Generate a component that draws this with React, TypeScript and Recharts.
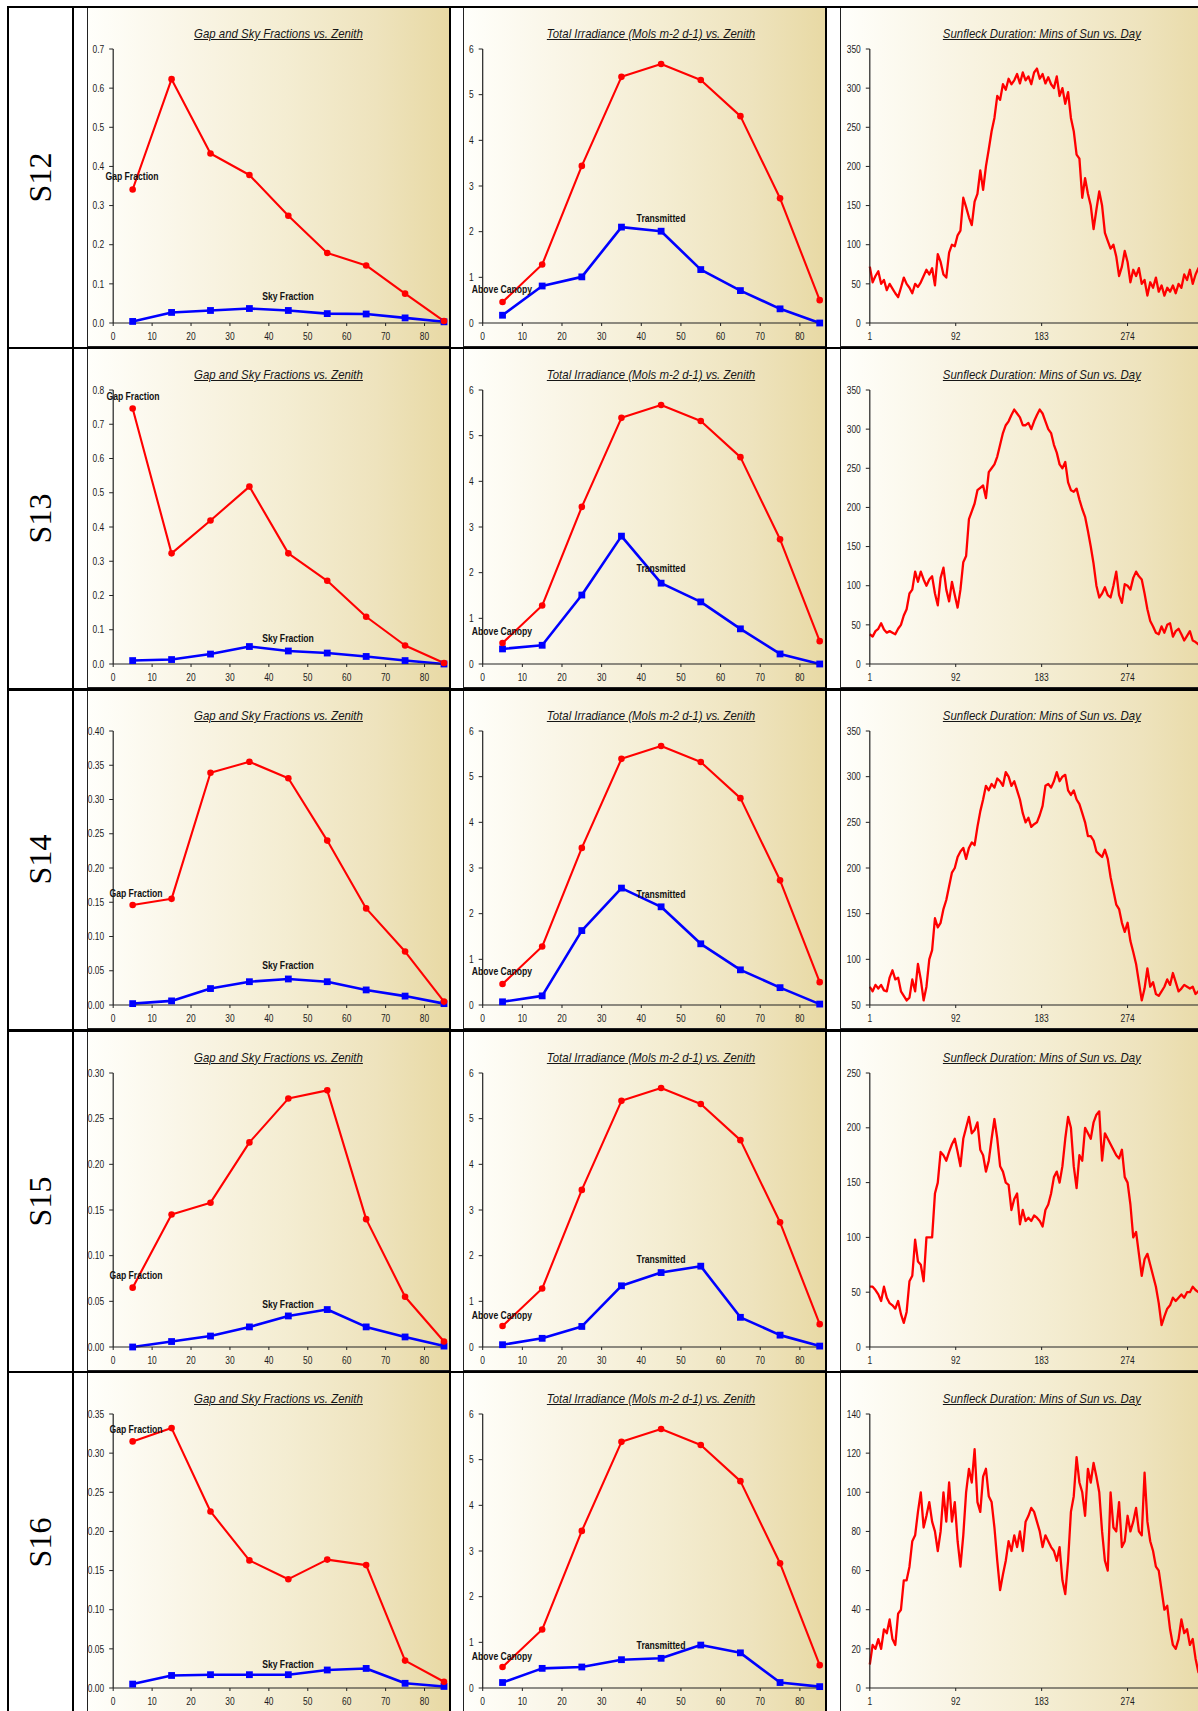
import React from 'react';
import { LineChart, Line, XAxis, YAxis } from 'recharts';

// ---------- data ----------
const rowNames = ['S12', 'S13', 'S14', 'S15', 'S16'];
const zenith = [5, 15, 25, 35, 45, 55, 65, 75, 85];
const zenithTicks = [0, 10, 20, 30, 40, 50, 60, 70, 80];
const dayTicks = [1, 92, 183, 274];

const gapS12 = [0.341, 0.623, 0.433, 0.378, 0.274, 0.179, 0.147, 0.075, 0.005];
const skyS12 = [0.004, 0.027, 0.032, 0.037, 0.032, 0.024, 0.023, 0.013, 0.003];
const gapS13 = [0.746, 0.323, 0.419, 0.518, 0.323, 0.243, 0.138, 0.054, 0.003];
const skyS13 = [0.01, 0.013, 0.029, 0.051, 0.038, 0.032, 0.022, 0.01, 0.0];
const gapS14 = [0.146, 0.155, 0.339, 0.355, 0.331, 0.24, 0.141, 0.078, 0.005];
const skyS14 = [0.002, 0.006, 0.024, 0.034, 0.038, 0.034, 0.022, 0.013, 0.002];
const gapS15 = [0.065, 0.145, 0.158, 0.224, 0.272, 0.281, 0.14, 0.055, 0.006];
const skyS15 = [0.0, 0.006, 0.012, 0.022, 0.034, 0.041, 0.022, 0.011, 0.001];
const gapS16 = [0.315, 0.332, 0.2255, 0.163, 0.139, 0.164, 0.157, 0.035, 0.008];
const skyS16 = [0.005, 0.016, 0.017, 0.017, 0.017, 0.023, 0.025, 0.006, 0.002];

const aboveCanopy = [0.46, 1.28, 3.44, 5.39, 5.67, 5.32, 4.53, 2.73, 0.5];
const transS12 = [0.17, 0.81, 1.01, 2.1, 2.01, 1.17, 0.71, 0.31, 0.0];
const transS13 = [0.33, 0.41, 1.51, 2.8, 1.77, 1.36, 0.77, 0.22, 0.0];
const transS14 = [0.07, 0.2, 1.63, 2.56, 2.15, 1.34, 0.77, 0.38, 0.02];
const transS15 = [0.05, 0.19, 0.45, 1.34, 1.63, 1.77, 0.65, 0.26, 0.02];
const transS16 = [0.12, 0.43, 0.46, 0.62, 0.65, 0.94, 0.77, 0.12, 0.03];

// sunfleck minutes, every third day starting at day 1
const sunS12 = [
  72, 52, 60, 66, 50, 55, 42, 50, 44, 38,
  33, 45, 58, 50, 45, 38, 50, 46, 52, 60,
  68, 62, 70, 48, 88, 78, 62, 58, 90, 100,
  98, 112, 118, 160, 148, 135, 125, 155, 165, 195,
  170, 200, 222, 245, 262, 290, 285, 305, 298, 312,
  305, 310, 318, 306, 320, 310, 315, 305, 320, 325,
  312, 318, 306, 314, 305, 300, 315, 290, 300, 280,
  295, 262, 245, 215, 210, 160, 185, 165, 150, 120,
  145, 168, 150, 115, 105, 95, 100, 85, 60, 72,
  92, 78, 52, 68, 60, 70, 50, 55, 35, 52,
  45, 58, 40, 48, 35, 45, 40, 48, 38, 50,
  45, 62, 55, 68, 50, 62, 70, 58, 62, 55,
  60, 58,
];
const sunS13 = [
  38, 35, 42, 45, 52, 44, 40, 42, 40, 38,
  45, 50, 62, 70, 90, 95, 118, 105, 118, 108,
  100, 108, 112, 90, 75, 110, 123, 95, 80, 105,
  88, 72, 95, 130, 138, 185, 195, 205, 222, 225,
  228, 212, 245, 250, 255, 265, 280, 295, 305, 310,
  318, 325, 320, 315, 305, 305, 308, 300, 310, 318,
  325, 320, 310, 300, 295, 280, 270, 255, 250, 258,
  232, 222, 220, 224, 210, 198, 188, 170, 150, 128,
  100, 85, 90, 98, 88, 85, 100, 118, 88, 78,
  102, 100, 95, 110, 118, 112, 108, 90, 70, 55,
  48, 40, 38, 48, 40, 50, 52, 35, 42, 45,
  38, 30, 36, 42, 30, 28, 25, 30, 28, 30,
  26, 28,
];
const sunS14 = [
  70, 65, 72, 68, 72, 66, 65, 80, 88, 78,
  80, 65, 60, 55, 58, 78, 65, 95, 78, 55,
  70, 100, 110, 145, 135, 140, 155, 165, 180, 195,
  200, 212, 218, 222, 210, 222, 228, 225, 245, 262,
  275, 290, 285, 292, 288, 298, 295, 290, 305, 300,
  290, 295, 285, 275, 260, 250, 255, 245, 248, 250,
  258, 268, 290, 292, 288, 295, 305, 295, 300, 302,
  285, 280, 285, 275, 270, 260, 250, 235, 235, 230,
  218, 215, 212, 220, 210, 190, 175, 160, 155, 140,
  130, 140, 120, 108, 95, 75, 55, 68, 90, 70,
  75, 62, 60, 65, 70, 78, 72, 85, 75, 65,
  68, 72, 70, 68, 70, 62, 65, 68, 70, 65,
  68, 66,
];
const sunS15 = [
  55, 55, 52, 48, 42, 55, 45, 40, 38, 35,
  42, 30, 22, 32, 60, 65, 98, 78, 75, 60,
  100, 100, 100, 140, 150, 178, 175, 170, 178, 185,
  190, 178, 165, 190, 200, 210, 195, 198, 205, 180,
  175, 160, 170, 190, 208, 190, 165, 160, 150, 148,
  125, 135, 140, 112, 125, 115, 118, 115, 120, 118,
  115, 110, 125, 130, 140, 155, 160, 150, 165, 190,
  210, 200, 165, 145, 175, 170, 200, 195, 190, 205,
  212, 215, 170, 195, 190, 185, 180, 175, 172, 180,
  155, 150, 130, 100, 105, 85, 65, 80, 85, 75,
  65, 55, 40, 20, 28, 35, 38, 45, 42, 45,
  48, 45, 50, 50, 55, 52, 50, 48, 52, 50,
  50, 48,
];
const sunS16 = [
  12, 22, 20, 25, 20, 30, 28, 35, 25, 22,
  38, 40, 55, 55, 62, 75, 78, 90, 100, 82,
  88, 95, 85, 80, 70, 80, 100, 85, 105, 85,
  95, 75, 62, 78, 100, 112, 105, 122, 95, 90,
  108, 112, 98, 95, 82, 65, 50, 58, 65, 75,
  70, 78, 72, 80, 70, 85, 88, 92, 90, 85,
  80, 72, 78, 75, 72, 70, 65, 72, 55, 48,
  65, 90, 98, 118, 105, 100, 88, 112, 105, 115,
  108, 100, 80, 65, 60, 100, 82, 80, 95, 72,
  75, 88, 80, 85, 92, 80, 78, 110, 85, 75,
  70, 62, 60, 50, 40, 42, 30, 22, 20, 25,
  35, 28, 30, 22, 25, 15, 8, 8, 6, 5,
  5, 5,
];

const gapTicks07 = [0, 0.1, 0.2, 0.3, 0.4, 0.5, 0.6, 0.7];
const gapTicks08 = [0, 0.1, 0.2, 0.3, 0.4, 0.5, 0.6, 0.7, 0.8];
const gapTicks040 = [0, 0.05, 0.1, 0.15, 0.2, 0.25, 0.3, 0.35, 0.4];
const gapTicks030 = [0, 0.05, 0.1, 0.15, 0.2, 0.25, 0.3];
const gapTicks035 = [0, 0.05, 0.1, 0.15, 0.2, 0.25, 0.3, 0.35];
const irrTicks = [0, 1, 2, 3, 4, 5, 6];
const sunTicks350 = [0, 50, 100, 150, 200, 250, 300, 350];
const sunTicks50 = [50, 100, 150, 200, 250, 300, 350];
const sunTicks250 = [0, 50, 100, 150, 200, 250];
const sunTicks140 = [0, 20, 40, 60, 80, 100, 120, 140];

const titleGap = 'Gap and Sky Fractions vs. Zenith';
const titleIrr = 'Total Irradiance (Mols m-2 d-1) vs. Zenith';
const titleSun = 'Sunfleck Duration: Mins of Sun vs. Day';

// ---------- styling ----------
const SANS = "'Liberation Sans', Arial, sans-serif";
const SQUEEZE = 0.82;
const GRAD = 'linear-gradient(to right, #fffffb 0%, #faf6e8 25%, #f4edd2 55%, #eee3bd 80%, #e8d9a4 100%)';
const ROW_H = 341.2;
const TOP0 = 7;
const PANEL_H = 339;
const RED = '#ff0000';
const BLUE = '#0000ff';

const SquareDot = (props: any) => {
  const { cx, cy, index } = props;
  if (cx == null || cy == null) return <g key={`e-${index}`} />;
  return <rect key={`sq-${index}`} x={cx - 3.4} y={cy - 3.4} width={6.8} height={6.8} fill={BLUE} />;
};
const CircleDot = (props: any) => {
  const { cx, cy, index } = props;
  if (cx == null || cy == null) return <g key={`e-${index}`} />;
  return <circle key={`c-${index}`} cx={cx} cy={cy} r={3.3} fill={RED} />;
};

const makeTick = (fmt: (v: number) => string, isX: boolean) => (props: any) => {
  const { x, y, payload, textAnchor, index } = props;
  return (
    <g key={`t-${index}`} transform={`translate(${x},${y})`}>
      <text
        x={0} y={0} dy={isX ? '0.71em' : '0.355em'} textAnchor={textAnchor}
        transform={`scale(${SQUEEZE},1)`} fontFamily={SANS} fontSize={10.3} fill="#1c1c1c"
      >{fmt(payload.value)}</text>
    </g>
  );
};

type Series = { key: string; color: string; dot: 'circle' | 'square' | 'none'; width: number };
type Note = { text: string; x: number; y: number };

function Panel(props: {
  left: number; top: number; chartWidth: number; yAxisWidth: number; marginRight: number;
  rows: any[]; series: Series[]; xDomain: [number, number]; xTicks: number[];
  yDomain: [number, number]; yTicks: number[]; yFmt: (v: number) => string;
  title: string; notes: Note[];
}) {
  const { left, top, chartWidth, yAxisWidth, marginRight, rows, series, xDomain, xTicks, yDomain, yTicks, yFmt, title, notes } = props;
  const plotWidth = chartWidth - yAxisWidth - marginRight;
  return (
    <div style={{ position: 'absolute', left, top, width: chartWidth, height: PANEL_H, background: GRAD }}>
      <div style={{ position: 'absolute', left: 0, top: 0, width: 1, height: PANEL_H + 1, background: '#222' }} />
      <div style={{ position: 'absolute', left: 0, top: PANEL_H, width: chartWidth, height: 1, background: '#222' }} />
      <div style={{ position: 'absolute', left: 0, top: 0 }}>
        <LineChart width={chartWidth} height={PANEL_H} data={rows} margin={{ top: 42, right: marginRight, bottom: 5, left: 0 }}>
          <XAxis
            dataKey="x" type="number" domain={xDomain} ticks={xTicks} interval={0} height={18}
            tick={makeTick((v) => String(v), true)} tickSize={3} tickMargin={7}
            axisLine={{ stroke: '#222', strokeWidth: 1.2 }} tickLine={{ stroke: '#222' }}
          />
          <YAxis
            type="number" domain={yDomain} ticks={yTicks} interval={0} width={yAxisWidth}
            tick={makeTick(yFmt, false)} tickSize={4} tickMargin={5}
            axisLine={{ stroke: '#222', strokeWidth: 1.2 }} tickLine={{ stroke: '#222' }}
          />
          {series.map((s) => (
            <Line
              key={s.key} dataKey={s.key} type="linear" stroke={s.color} strokeWidth={s.width}
              strokeLinejoin="round"
              dot={s.dot === 'circle' ? CircleDot : s.dot === 'square' ? SquareDot : false}
              activeDot={false} isAnimationActive={false}
            />
          ))}
        </LineChart>
      </div>
      <div style={{
        position: 'absolute', left: yAxisWidth, width: plotWidth, top: 18, lineHeight: '16px', textAlign: 'center', whiteSpace: 'nowrap',
      }}>
        <span style={{
          display: 'inline-block', transform: `scaleX(0.84)`, fontFamily: SANS, fontSize: 13.6, fontStyle: 'italic',
          textDecoration: 'underline', color: '#161616',
        }}>{title}</span>
      </div>
      {notes.map((n) => (
        <div key={n.text} style={{
          position: 'absolute', left: n.x, top: n.y, transform: `translate(-50%, -50%) scaleX(${SQUEEZE})`, whiteSpace: 'nowrap',
          fontFamily: SANS, fontSize: 10.5, fontWeight: 'bold', color: '#111', lineHeight: '12px',
        }}>{n.text}</div>
      ))}
    </div>
  );
}

const gapData = [gapS12, gapS13, gapS14, gapS15, gapS16];
const skyData = [skyS12, skyS13, skyS14, skyS15, skyS16];
const transData = [transS12, transS13, transS14, transS15, transS16];
const sunData = [sunS12, sunS13, sunS14, sunS15, sunS16];
const gapTicksByRow = [gapTicks07, gapTicks08, gapTicks040, gapTicks030, gapTicks035];
const gapDecimals = [1, 1, 2, 2, 2];
const sunTicksByRow = [sunTicks350, sunTicks350, sunTicks50, sunTicks250, sunTicks140];

const gapNoteY = [169, 48, 204, 244, 57];
const gapNoteX = [45, 46, 49, 49, 49];
const skyNoteY = [289, 290, 276, 273, 292];
const aboveNoteY = [282, 283, 282, 284, 284];
const transNoteY = [211, 220, 205, 228, 273];

export default function App() {
  return (
    <div style={{ position: 'absolute', left: 0, top: 0, width: 1198, height: 1711, overflow: 'hidden', background: '#fff' }}>
      {rowNames.map((name, r) => {
        const top = TOP0 + r * ROW_H;
        const fracRows = zenith.map((z, i) => ({ x: z, gap: gapData[r][i], sky: skyData[r][i] }));
        const irrRows = zenith.map((z, i) => ({ x: z, above: aboveCanopy[i], trans: transData[r][i] }));
        const sunRows = sunData[r].map((v, i) => ({ x: 1 + 3 * i, sun: v }));
        const gt = gapTicksByRow[r];
        const st = sunTicksByRow[r];
        return (
          <React.Fragment key={name}>
            <div style={{ position: 'absolute', left: 9, top, width: 63, height: ROW_H, display: 'flex', alignItems: 'center', justifyContent: 'center' }}>
              <div style={{ transform: 'rotate(-90deg)', fontFamily: "'Liberation Serif','Times New Roman',serif", fontSize: 32, color: '#000', whiteSpace: 'nowrap' }}>{name}</div>
            </div>
            <Panel
              left={87.3} top={top} chartWidth={362} yAxisWidth={26.2} marginRight={5}
              rows={fracRows}
              series={[{ key: 'sky', color: BLUE, dot: 'square', width: 2.6 }, { key: 'gap', color: RED, dot: 'circle', width: 2.1 }]}
              xDomain={[0, 85]} xTicks={zenithTicks} yDomain={[gt[0], gt[gt.length - 1]]} yTicks={gt}
              yFmt={(v) => v.toFixed(gapDecimals[r])} title={titleGap}
              notes={[{ text: 'Gap Fraction', x: gapNoteX[r], y: gapNoteY[r] }, { text: 'Sky Fraction', x: 201, y: skyNoteY[r] }]}
            />
            <Panel
              left={463.3} top={top} chartWidth={362} yAxisWidth={19.7} marginRight={5.3}
              rows={irrRows}
              series={[{ key: 'trans', color: BLUE, dot: 'square', width: 2.6 }, { key: 'above', color: RED, dot: 'circle', width: 2.1 }]}
              xDomain={[0, 85]} xTicks={zenithTicks} yDomain={[0, 6]} yTicks={irrTicks}
              yFmt={(v) => String(v)} title={titleIrr}
              notes={[{ text: 'Above Canopy', x: 39, y: aboveNoteY[r] }, { text: 'Transmitted', x: 198, y: transNoteY[r] }]}
            />
            <Panel
              left={840} top={top} chartWidth={377} yAxisWidth={29.8} marginRight={3.5}
              rows={sunRows}
              series={[{ key: 'sun', color: RED, dot: 'none', width: 2.3 }]}
              xDomain={[1, 365]} xTicks={dayTicks} yDomain={[st[0], st[st.length - 1]]} yTicks={st}
              yFmt={(v) => String(v)} title={titleSun} notes={[]}
            />
          </React.Fragment>
        );
      })}
      {/* frame lines */}
      {[7.3, 71.8, 449, 825].map((x) => (
        <div key={`v${x}`} style={{ position: 'absolute', left: x, top: 6, width: x > 400 ? 2.4 : 2, height: 1711, background: '#000' }} />
      ))}
      {rowNames.map((n, r) => (
        <div key={`h${n}`} style={{ position: 'absolute', left: 7.3, top: TOP0 + r * ROW_H - 1.2, width: 1200, height: 2.4, background: '#000' }} />
      ))}
    </div>
  );
}
